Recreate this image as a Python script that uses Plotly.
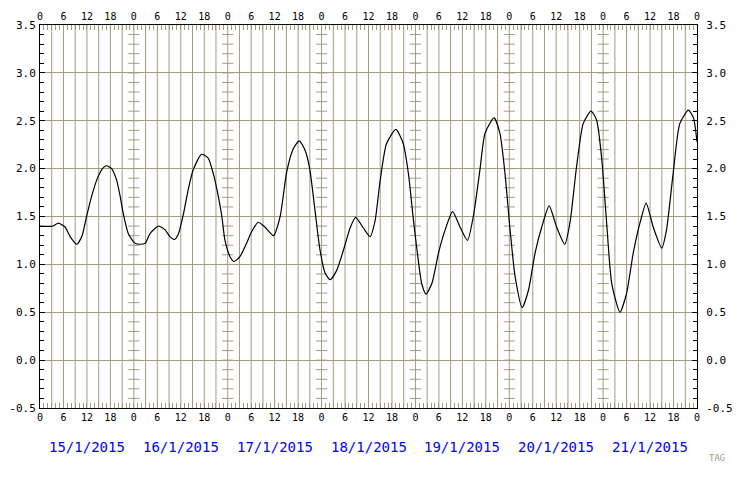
import plotly.graph_objects as go

# hours since 15/1/2015 00:00 and the value
hours = [0, 3.2, 4.7, 6.4, 7.7, 9.4, 10.7, 11.9, 13.2, 14.5, 15.8, 17.0, 18.3, 19.6,
         20.5, 21.3, 22.6, 24.3, 25.6, 26.9, 28.1, 30.3, 32.0, 33.2, 34.4, 35.4, 36.7,
         37.9, 39.2, 41.3, 43.0, 44.3, 45.6, 46.5, 47.3, 48.6, 49.6, 51.1, 52.8, 54.1,
         55.8, 57.5, 59.7, 61.4, 63.1, 64.8, 66.3, 67.8, 69.0, 70.3, 71.6, 72.9, 74.2,
         75.9, 77.6, 79.3, 80.7, 82.7, 84.4, 85.7, 86.9, 88.6, 91.0, 92.9, 94.2, 95.5,
         96.7, 97.6, 98.7, 100.2, 101.9, 103.6, 105.5, 107.4, 109.3, 110.8, 112.5, 113.8,
         116.1, 117.6, 118.9, 120.2, 121.5, 123.3, 124.9, 126.6, 128.3, 130.2, 132.1,
         134.2, 135.5, 137.2, 138.9, 140.9, 142.3, 143.6, 144.9, 146.2, 148.3, 150.0,
         151.7, 153.4, 155.0, 156.8, 159.0, 160.2, 161.9, 163.6, 165.8, 167.1, 168.0]
values = [1.40, 1.40, 1.43, 1.39, 1.29, 1.21, 1.29, 1.50, 1.71, 1.88, 1.99, 2.03, 2.00, 1.88,
          1.71, 1.53, 1.32, 1.22, 1.21, 1.22, 1.32, 1.40, 1.36, 1.29, 1.26, 1.32, 1.53,
          1.78, 1.99, 2.15, 2.11, 1.95, 1.71, 1.50, 1.25, 1.08, 1.03, 1.08, 1.22, 1.34,
          1.44, 1.39, 1.30, 1.50, 1.97, 2.21, 2.29, 2.19, 1.99, 1.57, 1.15, 0.91, 0.84,
          0.94, 1.15, 1.38, 1.49, 1.38, 1.29, 1.46, 1.85, 2.26, 2.41, 2.26, 1.95, 1.46,
          1.05, 0.80, 0.69, 0.80, 1.12, 1.36, 1.55, 1.39, 1.25, 1.50, 1.99, 2.37,
          2.53, 2.37, 1.95, 1.36, 0.87, 0.55, 0.73, 1.12, 1.39, 1.61, 1.39,
          1.21, 1.43, 2.02, 2.47, 2.60, 2.51, 2.12, 1.43, 0.80, 0.50, 0.70,
          1.12, 1.43, 1.64, 1.39, 1.17, 1.36, 1.95, 2.47, 2.61, 2.53, 2.28]

days = ['15/1/2015', '16/1/2015', '17/1/2015', '18/1/2015',
        '19/1/2015', '20/1/2015', '21/1/2015']
hour_labels = ['0', '6', '12', '18']
y_ticks = [-0.5, 0.0, 0.5, 1.0, 1.5, 2.0, 2.5, 3.0, 3.5]
y_text = ['-0.5', '0.0', '0.5', '1.0', '1.5', '2.0', '2.5', '3.0', '3.5']

GRID = '#a09c80'
FONT = 'DejaVu Sans Mono'
NH = 24 * len(days)

hour_ticks = list(range(0, NH + 1))
hour_text = [hour_labels[(h // 6) % 4] if h % 6 == 0 else '' for h in hour_ticks]

fig = go.Figure()

# 3-hour vertical grid lines
for h in range(3, NH, 3):
    fig.add_vline(x=h, line=dict(color=GRID, width=1), layer='below')

# cross ticks on the day-boundary grid lines
bx, by = [], []
for d in range(1, len(days)):
    for k in range(1, 40):
        bx.append(d * 24)
        by.append(round(-0.5 + k * 0.1, 2))
fig.add_trace(go.Scatter(x=bx, y=by, mode='markers', hoverinfo='skip', showlegend=False,
                         marker=dict(symbol='line-ew-open', size=8, color=GRID,
                                     line=dict(width=1, color=GRID))))

fig.add_trace(go.Scatter(x=hours, y=values, mode='lines', showlegend=False,
                         line=dict(color='black', width=1.2, shape='spline', smoothing=0.6)))
# invisible trace so the mirrored axes draw
fig.add_trace(go.Scatter(x=[0, NH], y=[-0.5, 3.5], xaxis='x2', yaxis='y2', mode='markers',
                         marker=dict(opacity=0), hoverinfo='skip', showlegend=False))

xcommon = dict(range=[0, NH], tickmode='array', tickvals=hour_ticks, ticktext=hour_text,
               ticks='inside', ticklen=5, tickcolor=GRID, showline=True, linecolor='black',
               linewidth=1, zeroline=False, tickangle=0, showgrid=False, automargin=False,
               tickfont=dict(family=FONT, size=10, color='black'))
ycommon = dict(range=[-0.5, 3.5], tickmode='array', tickvals=y_ticks, ticktext=y_text,
               ticks='inside', ticklen=5, tickcolor='black', showline=True, linecolor='black',
               linewidth=1, zeroline=False, automargin=False,
               tickfont=dict(family=FONT, size=11, color='black'),
               minor=dict(dtick=0.1, tick0=-0.5, ticks='inside', ticklen=4,
                          tickcolor='black', showgrid=False))

# the page adds an 8px body margin, so the figure is 8px smaller than the window
fig.update_layout(
    width=732, height=472,
    margin=dict(l=32, r=43, t=17, b=72),
    paper_bgcolor='white', plot_bgcolor='white',
    xaxis=dict(**xcommon),
    xaxis2=dict(**xcommon, overlaying='x', side='top'),
    yaxis=dict(**ycommon, showgrid=True, gridcolor=GRID, gridwidth=1, ticklabelstandoff=1),
    yaxis2=dict(**ycommon, overlaying='y', side='right', showgrid=False, ticklabelstandoff=6),
)

for i, d in enumerate(days):
    fig.add_annotation(x=i * 24 + 12, y=-0.102, xref='x', yref='paper', text=d,
                       showarrow=False, yanchor='middle',
                       font=dict(family=FONT, size=14, color='#0000ff'))
fig.add_annotation(x=1.045, y=-0.15, xref='paper', yref='paper', text='TAG',
                   showarrow=False, font=dict(family=FONT, size=9, color=GRID))

fig.write_html('out.html')
